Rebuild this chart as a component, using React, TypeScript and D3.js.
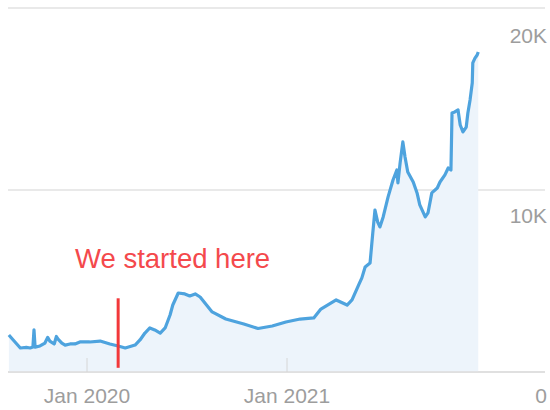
import React, { useEffect, useRef } from 'react';
import * as d3 from 'd3';

// daily-ish readings
const dates = [
  '2019-08-11', '2019-08-19', '2019-09-01', '2019-09-12', '2019-09-19', '2019-09-24', '2019-09-26', '2019-09-28',
  '2019-10-07', '2019-10-16', '2019-10-21', '2019-10-25', '2019-11-02', '2019-11-06', '2019-11-09', '2019-11-16',
  '2019-11-22', '2019-12-01', '2019-12-10', '2019-12-19', '2020-01-06', '2020-01-25', '2020-02-12', '2020-02-27',
  '2020-03-11', '2020-03-29', '2020-04-07', '2020-04-16', '2020-04-25', '2020-05-04', '2020-05-14', '2020-05-23',
  '2020-06-01', '2020-06-06', '2020-06-16', '2020-06-28', '2020-07-07', '2020-07-17', '2020-07-26', '2020-08-17',
  '2020-09-11', '2020-10-14', '2020-11-09', '2020-12-05', '2020-12-30', '2021-01-25', '2021-02-19', '2021-03-04',
  '2021-04-01', '2021-04-21', '2021-04-30', '2021-05-13', '2021-05-18', '2021-05-24', '2021-06-02', '2021-06-07',
  '2021-06-11', '2021-06-16', '2021-06-20', '2021-06-26', '2021-07-05', '2021-07-14', '2021-07-21', '2021-07-23',
  '2021-07-27', '2021-08-01', '2021-08-05', '2021-08-10', '2021-08-20', '2021-08-27', '2021-09-01', '2021-09-11',
  '2021-09-16', '2021-09-23', '2021-10-03', '2021-10-08', '2021-10-17', '2021-10-23', '2021-10-28', '2021-10-30',
  '2021-11-04', '2021-11-10', '2021-11-14', '2021-11-19', '2021-11-25', '2021-11-28', '2021-12-02', '2021-12-06',
  '2021-12-07', '2021-12-11', '2021-12-15', '2021-12-17',
];

const values = [
  2030, 1760, 1320, 1350, 1320, 1370, 2310, 1370,
  1430, 1590, 1900, 1700, 1540, 1950, 1810, 1590,
  1480, 1540, 1540, 1650, 1650, 1700, 1540, 1430,
  1320, 1480, 1760, 2140, 2420, 2310, 2140, 2420,
  3130, 3680, 4340, 4290, 4180, 4290, 4120, 3300,
  2910, 2640, 2390, 2530, 2750, 2910, 2970, 3460,
  3960, 3680, 3960, 4840, 5170, 5770, 5990, 7640,
  8900, 8240, 7970, 8520, 9620, 10550, 11100, 10390,
  11490, 12640, 11810, 10990, 10440, 9840, 9180, 8520,
  8740, 9840, 10110, 10440, 10830, 11210, 11100, 14230,
  14290, 14400, 13570, 13190, 13460, 14230, 14950, 15880,
  16980, 17250, 17420, 17580,
];

const yTicks = [0, 10000, 20000];
const yTickLabels = ['0', '10K', '20K'];
const xTicks = ['2020-01-01', '2021-01-01'];
const xTickLabels = ['Jan 2020', 'Jan 2021'];

const annotationDate = '2020-02-27';
const annotationText = 'We started here';

const App = () => {
  const ref = useRef<SVGSVGElement | null>(null);

  useEffect(() => {
    const svg = d3.select(ref.current);
    svg.selectAll('*').remove();

    const parse = d3.utcParse('%Y-%m-%d');
    const data = dates.map((d, i) => ({ date: parse(d) as Date, value: values[i] }));

    const left = 8;
    const right = 545;
    const font = '"Liberation Sans", Arial, sans-serif';

    const x = d3
      .scaleUtc()
      .domain([parse(xTicks[0]) as Date, parse(xTicks[1]) as Date])
      .range([87, 287]);
    const y = d3.scaleLinear().domain([0, 20000]).range([372, 8]);

    // grid
    yTicks.forEach((t, i) => {
      svg
        .append('line')
        .attr('x1', left)
        .attr('x2', right)
        .attr('y1', y(t))
        .attr('y2', y(t))
        .attr('stroke', '#e2e2e2')
        .attr('stroke-width', 1.5);
      svg
        .append('text')
        .attr('x', 547)
        .attr('y', y(t) + 31 + i * 2)
        .attr('text-anchor', 'end')
        .attr('font-family', font)
        .attr('font-size', 21)
        .attr('fill', '#9d9d9d')
        .text(yTickLabels[i]);
    });

    const area = d3
      .area<any>()
      .x((d) => x(d.date))
      .y0(y(0))
      .y1((d) => y(d.value));

    svg.append('path').datum(data).attr('d', area).attr('fill', '#edf4fb');

    // redraw baseline over the fill
    svg
      .append('line')
      .attr('x1', left)
      .attr('x2', right)
      .attr('y1', y(0))
      .attr('y2', y(0))
      .attr('stroke', '#dcdcdc')
      .attr('stroke-width', 1.5);

    xTicks.forEach((t, i) => {
      const tx = x(parse(t) as Date);
      svg
        .append('line')
        .attr('x1', tx)
        .attr('x2', tx)
        .attr('y1', y(0) - 14)
        .attr('y2', y(0))
        .attr('stroke', '#d6d6d6')
        .attr('stroke-width', 1);
      svg
        .append('text')
        .attr('x', tx)
        .attr('y', 403)
        .attr('text-anchor', 'middle')
        .attr('font-family', font)
        .attr('font-size', 21)
        .attr('fill', '#9d9d9d')
        .text(xTickLabels[i]);
    });

    const line = d3
      .line<any>()
      .x((d) => x(d.date))
      .y((d) => y(d.value));

    svg
      .append('path')
      .datum(data)
      .attr('d', line)
      .attr('fill', 'none')
      .attr('stroke', '#4ea3de')
      .attr('stroke-width', 3.2)
      .attr('stroke-linejoin', 'round');

    // annotation
    const ax = x(parse(annotationDate) as Date);
    svg
      .append('line')
      .attr('x1', ax)
      .attr('x2', ax)
      .attr('y1', y(4050))
      .attr('y2', y(230))
      .attr('stroke', '#f2383a')
      .attr('stroke-width', 3);

    svg
      .append('text')
      .attr('x', 75)
      .attr('y', 268)
      .attr('font-family', font)
      .attr('font-size', 27.5)
      .attr('fill', '#f4494c')
      .text(annotationText);
  }, []);

  return (
    <svg
      ref={ref}
      width={550}
      height={410}
      style={{ position: 'absolute', left: 0, top: 0, background: '#fff' }}
    />
  );
};

export default App;
